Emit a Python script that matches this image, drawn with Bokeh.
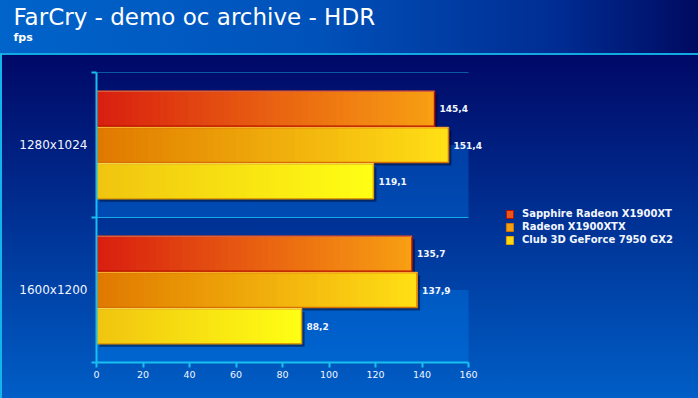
import math
from bokeh.plotting import figure
from bokeh.layouts import column
from bokeh.models import Range1d, FixedTicker, Legend, LegendItem, ColumnDataSource
from bokeh.core.properties import value
from bokeh.embed import file_html
from bokeh.resources import INLINE

# ---- data ----
title_text = "FarCry - demo oc archive - HDR"
unit_text = "fps"
categories = ["1280x1024", "1600x1200"]
series_names = ["Sapphire Radeon X1900XT", "Radeon X1900XTX", "Club 3D GeForce 7950 GX2"]
sapphire = [145.4, 135.7]
radeon_xtx = [151.4, 137.9]
club3d = [119.1, 88.2]
x_ticks = [0, 20, 40, 60, 80, 100, 120, 140, 160]

series_values = [sapphire, radeon_xtx, club3d]

# ---- styles ----
grad_colors = [("#d81e10", "#f8a012"), ("#e07800", "#ffe016"), ("#f0c410", "#ffff14")]
edge_dark = ["#b81000", "#d87000", "#e0a000"]
edge_light = ["#f0a070", "#ffc040", "#fff080"]
legend_fill = ["#e8581a", "#f0a010", "#f8d818"]
CYAN = "#18c0f0"
TEXT = "#f2f6ff"

W, H = 698, 398
HEAD = 55                      # header strip (title band + cyan rule)
HEAD_INSET = 14.6              # measured top inset of the header frame
LEFT, TOP, BOTTOM_PAD = 96, 72, 36
PX0, PX160 = 96, 468           # pixel positions of x=0 and x=160
xmax = x_ticks[-1]
px_per_unit = (PX160 - PX0) / xmax
x_end = (W - LEFT) / px_per_unit
ncat = len(categories)
frame_h = H - TOP - BOTTOM_PAD
py_per_unit = frame_h / ncat

# ---------- header figure ----------
hd = figure(width=W, height=HEAD, output_backend="svg", toolbar_location=None, title=None,
            x_range=Range1d(0, W), y_range=Range1d(HEAD, HEAD_INSET),
            x_axis_location=None, y_axis_location=None,
            min_border=0, min_border_left=0, min_border_right=0, min_border_top=0, min_border_bottom=0)
hd.xgrid.visible = False
hd.ygrid.visible = False
hd.outline_line_color = None
hd.background_fill_color = None
hd.border_fill_color = None
hd.styles = {
    "background": (
        "linear-gradient(#12b4ea,#12b4ea) 0 53px / 2px 2px no-repeat, "
        "linear-gradient(#12a8e2,#12a8e2) 0 53px / 100% 2px no-repeat, "
        "linear-gradient(to right, #0064ca 0%, #0052ba 45%, #002c92 80%, #000a60 100%) 0 0 / 100% 53px no-repeat"
    )
}
hd.text(x=[13], y=[27], text=[title_text], text_font=value("DejaVu Sans"),
        text_font_size="23px", text_color="white", text_baseline="alphabetic", text_align="left")
hd.text(x=[13], y=[42], text=[unit_text], text_font=value("DejaVu Sans"),
        text_font_size="11px", text_font_style="bold", text_color="white",
        text_baseline="alphabetic", text_align="left")

# ---------- chart figure ----------
p = figure(width=W, height=H - HEAD, output_backend="svg", toolbar_location=None,
           x_range=Range1d(0, x_end), y_range=Range1d(0, ncat),
           min_border_left=LEFT, min_border_right=0, min_border_top=TOP - HEAD,
           min_border_bottom=BOTTOM_PAD)
p.xgrid.visible = False
p.ygrid.visible = False
p.outline_line_color = None
p.background_fill_color = None
p.border_fill_color = None
p.title.text = ""
p.styles = {
    "background": (
        "linear-gradient(#12b4ea,#12b4ea) 0 0 / 2px 100% no-repeat, "
        "linear-gradient(to bottom, #000866 0%, #002a8c 40%, #005ec6 100%) 0 0 / 100% 100% no-repeat"
    )
}

# keep the two figures' frames independent (no frame alignment in the column)
for fig in (hd, p):
    try:
        fig.frame_align = False
    except Exception:
        pass

centers = [ncat - i - 0.5 for i in range(ncat)]

# lighter back panels (lower half of each band)
p.quad(left=[x_ticks[0]] * ncat, right=[xmax] * ncat,
       bottom=[c - 0.5 for c in centers], top=centers,
       fill_color="#008cff", fill_alpha=0.3, line_color=None)

# band grid lines
p.segment(x0=[x_ticks[0]] * ncat, x1=[xmax] * ncat,
          y0=[c + 0.5 for c in centers], y1=[c + 0.5 for c in centers],
          line_color=CYAN, line_width=1, line_alpha=0.85)

bar_h = 0.242
step = 0.25
N = 48
dx = 3 / px_per_unit
dy = 3 / py_per_unit


def mix(c0, c1, t):
    a = [int(c0[i:i + 2], 16) for i in (1, 3, 5)]
    b = [int(c1[i:i + 2], 16) for i in (1, 3, 5)]
    return "#%02x%02x%02x" % tuple(int(round(a[k] + (b[k] - a[k]) * t)) for k in range(3))


# shadows
sh = dict(left=[], right=[], top=[], bottom=[])
for s, vals in enumerate(series_values):
    for j, v in enumerate(vals):
        yc = centers[j] + step * (1 - s)
        sh["left"].append(dx)
        sh["right"].append(v + dx)
        sh["top"].append(yc + bar_h / 2 - dy)
        sh["bottom"].append(yc - bar_h / 2 - dy)
p.quad(source=ColumnDataSource(sh), left="left", right="right", top="top", bottom="bottom",
       fill_color="#000018", fill_alpha=0.45, line_color=None)

# gradient bars
for s, vals in enumerate(series_values):
    c0, c1 = grad_colors[s]
    d = dict(left=[], right=[], top=[], bottom=[], color=[])
    for j, v in enumerate(vals):
        yc = centers[j] + step * (1 - s)
        for k in range(N):
            d["left"].append(v * k / N)
            d["right"].append(v)
            d["top"].append(yc + bar_h / 2)
            d["bottom"].append(yc - bar_h / 2)
            d["color"].append(mix(c0, c1, (k + 0.5) / N))
    p.quad(source=ColumnDataSource(d), left="left", right="right", top="top", bottom="bottom",
           fill_color="color", line_color=None)
    tops = [centers[j] + step * (1 - s) + bar_h / 2 for j in range(ncat)]
    bots = [centers[j] + step * (1 - s) - bar_h / 2 for j in range(ncat)]
    p.quad(left=[0] * ncat, right=vals, top=tops, bottom=bots,
           fill_color=None, line_color=edge_dark[s], line_width=1.5)
    # bevel highlight on top & left
    p.segment(x0=[0] * ncat, x1=vals, y0=tops, y1=tops, line_color=edge_light[s], line_width=1, line_alpha=0.8)
    p.segment(x0=[0] * ncat, x1=[0] * ncat, y0=bots, y1=tops, line_color=edge_light[s], line_width=1, line_alpha=0.8)
    # value labels
    p.text(x=vals, y=[centers[j] + step * (1 - s) for j in range(ncat)],
           text=[("%.1f" % v).replace(".", ",") for v in vals],
           x_offset=5, text_align="left", text_baseline="middle",
           text_font=value("DejaVu Sans"), text_font_style="bold", text_font_size="9px",
           text_color=TEXT)

# axes
xa = p.xaxis[0]
xa.ticker = FixedTicker(ticks=x_ticks)
xa.bounds = (x_ticks[0], xmax)
xa.axis_line_color = CYAN
xa.axis_line_width = 2
xa.major_tick_line_color = CYAN
xa.major_tick_line_width = 2
xa.major_tick_out = 5
xa.major_tick_in = 0
xa.minor_tick_line_color = None
xa.major_label_text_color = TEXT
xa.major_label_text_font = "DejaVu Sans"
xa.major_label_text_font_size = "9.5px"
xa.major_label_standoff = 3

ya = p.yaxis[0]
ya.ticker = FixedTicker(ticks=centers, minor_ticks=[float(i) for i in range(ncat + 1)])
ya.major_label_overrides = {c: categories[i] for i, c in enumerate(centers)}
ya.bounds = (0, ncat)
ya.axis_line_color = CYAN
ya.axis_line_width = 2
ya.major_tick_out = 0
ya.major_tick_in = 0
ya.major_tick_line_color = None
ya.minor_tick_out = 5
ya.minor_tick_in = 0
ya.minor_tick_line_color = CYAN
ya.minor_tick_line_width = 2
ya.major_label_text_color = TEXT
ya.major_label_text_font = "DejaVu Sans"
ya.major_label_text_font_size = "12px"
ya.major_label_standoff = 4

# legend (NaN renderers carry the swatch styles)
items = []
for s, name in enumerate(series_names):
    r = p.quad(left=[math.nan], right=[math.nan], top=[math.nan], bottom=[math.nan],
               fill_color=legend_fill[s], line_color=edge_dark[s], line_width=1)
    items.append(LegendItem(label=name, renderers=[r]))
legend = Legend(items=items, location=(409, 117), orientation="vertical",
                glyph_width=9, glyph_height=10, label_standoff=8, spacing=2,
                padding=0, margin=0, border_line_color=None, background_fill_alpha=0,
                label_text_color=TEXT, label_text_font="DejaVu Sans",
                label_text_font_style="bold", label_text_font_size="10px")
p.add_layout(legend)

layout = column(hd, p, spacing=0)
open("out.html", "w").write(file_html(layout, INLINE))
